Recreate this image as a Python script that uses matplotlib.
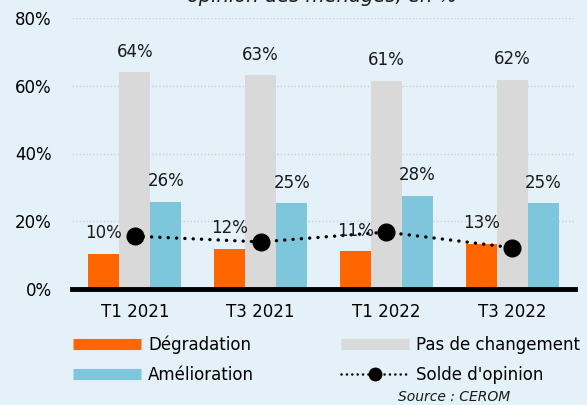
import matplotlib
matplotlib.use("Agg")
import matplotlib.pyplot as plt
from matplotlib.lines import Line2D
import numpy as np

categories = ["T1 2021", "T3 2021", "T1 2022", "T3 2022"]
degradation = [10.4, 11.8, 11.2, 13.3]
pas_changement = [64.0, 63.1, 61.4, 61.7]
amelioration = [25.8, 25.3, 27.6, 25.3]
solde = [15.6, 13.9, 16.8, 12.2]
deg_labels = ["10%", "12%", "11%", "13%"]
pas_labels = ["64%", "63%", "61%", "62%"]
ame_labels = ["26%", "25%", "28%", "25%"]

BG = "#e4f1f8"
C_DEG = "#ff6600"
C_PAS = "#d9d9d9"
C_AME = "#7ec6dc"

plt.rcParams['font.family'] = ['DejaVu Sans']

fig = plt.figure(figsize=(5.87, 4.05), dpi=100, facecolor=BG)
ax = fig.add_axes([72/587, 1-289/405, 503/587, 271/405], facecolor=BG)

x = np.arange(len(categories))
w = 0.247
b1 = ax.bar(x - w, degradation, w, color=C_DEG, label="Dégradation", zorder=2)
b2 = ax.bar(x, pas_changement, w, color=C_PAS, label="Pas de changement", zorder=2)
b3 = ax.bar(x + w, amelioration, w, color=C_AME, label="Amélioration", zorder=2)
ln, = ax.plot(x, solde, color="black", linestyle=(0, (0.05, 2.45)), lw=2.4,
              marker="o", markersize=12, zorder=4, label="Solde d'opinion",
              dash_capstyle="round")

fs = 12
for bars, labs in ((b1, deg_labels), (b2, pas_labels), (b3, ame_labels)):
    for r, t in zip(bars, labs):
        ax.annotate(t, (r.get_x() + r.get_width()/2, r.get_height()),
                    xytext=(0, 14.8), textcoords="offset points",
                    ha="center", va="center", fontsize=fs, color="#1a1a1a", zorder=5)

ax.set_xlim(-0.5, 3.5)
ax.set_ylim(0, 80)
ax.set_yticks([0, 20, 40, 60, 80])
ax.set_yticklabels(["0%", "20%", "40%", "60%", "80%"], fontsize=fs)
ax.set_xticks(x)
ax.set_xticklabels(categories, fontsize=fs)
ax.tick_params(axis="both", length=0)
ax.tick_params(axis="y", pad=14.4)
ax.tick_params(axis="x", pad=10)
for s in ["top", "right", "left"]:
    ax.spines[s].set_visible(False)
ax.spines["bottom"].set_linewidth(3.5)
ax.spines["bottom"].set_color("black")
ax.spines["bottom"].set_zorder(6)
ax.yaxis.grid(True, color="#cfcfcf", linestyle=(0, (1, 1.5)), lw=1, zorder=0)
ax.set_axisbelow(True)

handles = [
    Line2D([0], [0], color=C_DEG, lw=8, solid_capstyle="butt"),
    Line2D([0], [0], color=C_AME, lw=8, solid_capstyle="butt"),
    Line2D([0], [0], color=C_PAS, lw=8, solid_capstyle="butt"),
    Line2D([0], [0], color="black", lw=1.8, linestyle=(0, (0.05, 2.1)),
           marker="o", markersize=9, dash_capstyle="round"),
]
labels = ["Dégradation", "Amélioration", "Pas de changement", "Solde d'opinion"]
leg = fig.legend(handles, labels, ncol=2, loc="upper left",
                 bbox_to_anchor=(58/587, 1-320/405), frameon=False,
                 fontsize=fs, handlelength=4.1, handletextpad=0.42,
                 columnspacing=5.2, labelspacing=0.75)

fig.text(454/587, 1-397/405, "Source : CEROM", ha="center", va="center",
         fontsize=10, style="italic", color="#1a1a1a")
fig.text(322/587, 1-2/405, "opinion des ménages, en %", ha="center",
         va="baseline", fontsize=14, style="italic", color="#1a1a1a")

fig.savefig("out.png", dpi=100, facecolor=BG)
